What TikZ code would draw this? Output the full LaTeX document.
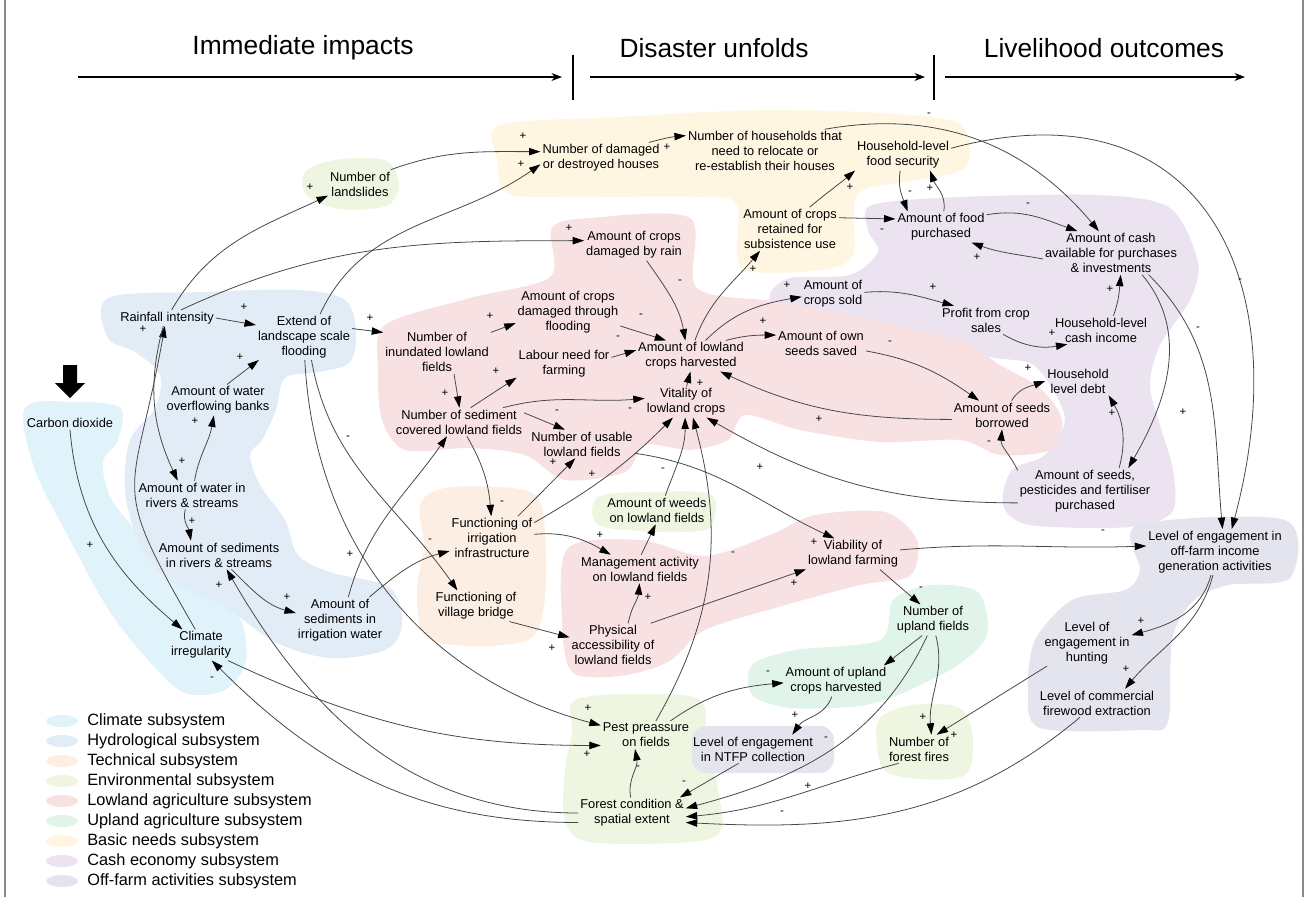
\documentclass[tikz,border=0pt]{standalone}
\usepackage{fontspec}
\setmainfont{Liberation Sans}
\usetikzlibrary{arrows.meta}
\definecolor{climc}{HTML}{E0F3FB}
\definecolor{hydroc}{HTML}{E2ECF7}
\definecolor{techc}{HTML}{FCEEE2}
\definecolor{envc}{HTML}{EEF6E2}
\definecolor{lowc}{HTML}{F8E1E3}
\definecolor{upc}{HTML}{E1F4EA}
\definecolor{basicc}{HTML}{FEF6E1}
\definecolor{cashc}{HTML}{EBE3F0}
\definecolor{offc}{HTML}{E4E4EE}
\begin{document}
\begin{tikzpicture}[x=0.02cm,y=0.02cm,>={Triangle[length=6.5pt,width=4.2pt,color=black]},
	var/.style={align=center,inner sep=1pt,font=\fontsize{7.3}{8.5}\selectfont},
	sgn/.style={inner sep=0pt,font=\fontsize{6.5}{7}\selectfont},
	head/.style={inner sep=0pt,font=\fontsize{15}{18}\selectfont},
	legtxt/.style={inner sep=0pt,anchor=west,font=\fontsize{9.3}{11}\selectfont},
	link/.style={->,draw=black!72,line width=0.45pt},
	hdarrow/.style={-{Stealth[length=6pt,width=4.5pt]},line width=0.6pt}]
	\useasboundingbox (0,0) rectangle (1306,-897);
	\draw[black!45,line width=0.8pt] (5,0) -- (5,-897);
	\draw[black!45,line width=0.8pt] (1303,0) -- (1303,-897);
	\fill[climc] plot[smooth cycle,tension=0.55] coordinates {(25,-408) (75,-402) (120,-408) (118,-440) (103,-462) (112,-500) (150,-545) (200,-590) (238,-615) (246,-660) (225,-690) (185,-693) (150,-662) (110,-612) (70,-540) (35,-470)};
	\fill[hydroc] plot[smooth cycle,tension=0.55] coordinates {(108,-298) (200,-292) (300,-290) (345,-300) (356,-330) (350,-362) (320,-372) (285,-378) (276,-410) (262,-440) (250,-455) (260,-485) (285,-520) (298,-555) (330,-572) (390,-588) (402,-625) (385,-650) (330,-658) (275,-642) (225,-607) (165,-577) (138,-540) (125,-490) (130,-440) (155,-408) (160,-375) (135,-352) (108,-338)};
	\fill[techc] plot[smooth cycle,tension=0.55] coordinates {(420,-505) (445,-488) (512,-488) (540,-502) (546,-560) (543,-612) (528,-640) (470,-646) (425,-636) (417,-590) (424,-545)};
	\fill[envc] plot[smooth cycle,tension=0.55] coordinates {(305,-172) (335,-160) (385,-160) (399,-185) (386,-206) (340,-209) (307,-196)};
	\fill[envc] plot[smooth cycle,tension=0.55] coordinates {(598,-497) (650,-492) (710,-494) (714,-520) (700,-531) (640,-531) (597,-524)};
	\fill[envc] plot[smooth cycle,tension=0.55] coordinates {(880,-718) (912,-705) (960,-708) (973,-740) (965,-775) (920,-779) (885,-771) (877,-745)};
	\fill[envc] plot[smooth cycle,tension=0.55] coordinates {(575,-700) (640,-694) (700,-700) (706,-740) (718,-790) (721,-830) (690,-842) (590,-842) (565,-820) (565,-770) (572,-732)};
	\fill[basicc] plot[smooth cycle,tension=0.5] coordinates {(500,-125) (620,-117) (760,-110) (880,-113) (960,-124) (965,-168) (905,-182) (857,-195) (853,-255) (820,-270) (742,-268) (737,-205) (700,-197) (560,-197) (507,-193) (497,-160)};
	\fill[cashc] plot[smooth cycle,tension=0.5] coordinates {(872,-205) (960,-197) (1100,-195) (1170,-208) (1198,-262) (1190,-300) (1160,-345) (1150,-385) (1160,-425) (1173,-470) (1172,-512) (1130,-527) (1030,-525) (1003,-505) (1012,-470) (1045,-455) (1065,-420) (1050,-385) (1030,-363) (990,-357) (960,-342) (900,-335) (840,-328) (780,-322) (770,-295) (790,-278) (850,-275) (878,-252) (868,-230)};
	\fill[lowc] plot[smooth cycle,tension=0.5] coordinates {(385,-325) (470,-298) (550,-277) (552,-228) (590,-218) (690,-218) (697,-288) (780,-302) (880,-322) (960,-340) (1000,-365) (1040,-388) (1062,-420) (1050,-450) (1000,-455) (960,-440) (880,-442) (800,-430) (745,-415) (728,-440) (690,-450) (645,-445) (625,-472) (565,-480) (525,-455) (470,-448) (405,-450) (382,-420) (378,-370)};
	\fill[lowc] plot[smooth cycle,tension=0.5] coordinates {(568,-548) (640,-540) (705,-556) (770,-535) (815,-515) (885,-512) (917,-540) (910,-576) (860,-585) (775,-608) (705,-630) (668,-662) (620,-676) (572,-672) (562,-620)};
	\fill[upc] plot[smooth cycle,tension=0.5] coordinates {(752,-665) (795,-650) (880,-640) (893,-600) (930,-585) (978,-592) (987,-635) (958,-665) (905,-692) (860,-706) (790,-708) (752,-695)};
	\fill[offc] plot[smooth cycle,tension=0.5] coordinates {(1138,-525) (1285,-520) (1290,-578) (1228,-585) (1192,-602) (1172,-640) (1168,-722) (1140,-730) (1040,-728) (1028,-690) (1035,-640) (1072,-600) (1125,-590) (1140,-570)};
	\fill[offc,rounded corners=8pt] (692,-726) rectangle (834,-773);
	\node[head] (himm) at (303,-48) {Immediate impacts};
	\node[head] (hdis) at (714,-48) {Disaster unfolds};
	\node[head] (hliv) at (1104,-48) {Livelihood outcomes};
	\coordinate (a1s) at (78,-77);
	\coordinate (a1e) at (562,-77);
	\coordinate (a2s) at (590,-77);
	\coordinate (a2e) at (925,-77);
	\coordinate (a3s) at (945,-77);
	\coordinate (a3e) at (1245,-77);
	\draw[hdarrow] (a1s) -- (a1e);
	\draw[hdarrow] (a2s) -- (a2e);
	\draw[hdarrow] (a3s) -- (a3e);
	\draw[line width=0.6pt] (573,-55) -- (573,-100);
	\draw[line width=0.6pt] (934,-55) -- (934,-100);
	\fill (63,-365) -- (77,-365) -- (77,-383) -- (85,-383) -- (70,-398) -- (55,-383) -- (63,-383) -- cycle;
	\node[var] (co2) at (70,-423) {Carbon dioxide};
	\node[var] (climirr) at (201,-645) {Climate\\irregularity};
	\node[var] (rain) at (167,-318) {Rainfall intensity};
	\node[var] (flood) at (304,-337) {Extend of\\landscape scale\\flooding};
	\node[var] (overflow) at (218,-400) {Amount of water\\overflowing banks};
	\node[var] (riverw) at (192,-495) {Amount of water in\\rivers \& streams};
	\node[var] (rivers) at (219,-555) {Amount of sediments\\in rivers \& streams};
	\node[var] (irrsed) at (340,-620) {Amount of\\sediments in\\irrigation water};
	\node[var] (slides) at (360,-184) {Number of\\landslides};
	\node[var] (houses) at (601,-158) {Number of damaged\\or destroyed houses};
	\node[var] (relocate) at (765,-151) {Number of households that\\need to relocate or\\re-establish their houses};
	\node[var] (foodsec) at (903,-155) {Household-level\\food security};
	\node[var] (retained) at (790,-229) {Amount of crops\\retained for\\subsistence use};
	\node[var] (foodpur) at (941,-227) {Amount of food\\purchased};
	\node[var] (cash) at (1111,-253) {Amount of cash\\available for purchases\\\& investments};
	\node[var] (rainloss) at (634,-245) {Amount of crops\\damaged by rain};
	\node[var] (floodloss) at (568,-312) {Amount of crops\\damaged through\\flooding};
	\node[var] (inund) at (437,-352) {Number of\\inundated lowland\\fields};
	\node[var] (labour) at (564,-364) {Labour need for\\farming};
	\node[var] (harvest) at (691,-356) {Amount of lowland\\crops harvested};
	\node[var] (sold) at (833,-294) {Amount of\\crops sold};
	\node[var] (profit) at (986,-320) {Profit from crop\\sales};
	\node[var] (cashinc) at (1101,-330) {Household-level\\cash income};
	\node[var] (ownseed) at (821,-343) {Amount of own\\seeds saved};
	\node[var] (debt) at (1078,-381) {Household\\level debt};
	\node[var] (borrow) at (1002,-415) {Amount of seeds\\borrowed};
	\node[var] (vital) at (686,-402) {Vitality of\\lowland crops};
	\node[var] (sedcov) at (459,-422) {Number of sediment\\covered lowland fields};
	\node[var] (usable) at (582,-444) {Number of usable\\lowland fields};
	\node[var] (inputs) at (1085,-491) {Amount of seeds,\\pesticides and fertiliser\\purchased};
	\node[var] (weeds) at (657,-510) {Amount of weeds\\on lowland fields};
	\node[var] (irrig) at (492,-538) {Functioning of\\irrigation\\infrastructure};
	\node[var] (manage) at (640,-569) {Management activity\\on lowland fields};
	\node[var] (viable) at (853,-554) {Viability of\\lowland farming};
	\node[var] (offfarm) at (1215,-552) {Level of engagement in\\off-farm income\\generation activities};
	\node[var] (bridge) at (476,-606) {Functioning of\\village bridge};
	\node[var] (access) at (613,-645) {Physical\\accessibility of\\lowland fields};
	\node[var] (upland) at (933,-620) {Number of\\upland fields};
	\node[var] (hunt) at (1087,-643) {Level of\\engagement in\\hunting};
	\node[var] (firewood) at (1097,-703) {Level of commercial\\firewood extraction};
	\node[var] (upcrop) at (836,-681) {Amount of upland\\crops harvested};
	\node[var] (pest) at (646,-735) {Pest preassure\\on fields};
	\node[var] (ntfp) at (753,-749) {Level of engagement\\in NTFP collection};
	\node[var] (fires) at (919,-749) {Number of\\forest fires};
	\node[var] (forest) at (632,-813) {Forest condition \&\\spatial extent};
	\draw[link] (co2.south) to[out=-85,in=140] (climirr.140);
	\draw[link] (climirr.110) to[out=120,in=-100,looseness=1.5] (rain.-105);
	\draw[link] (rain.-115) to[out=-105,in=115] (riverw.135);
	\draw[link] (rain.east) -- (flood.166);
	\draw[link] (rain.60) to[out=60,in=-155] (slides.200);
	\draw[link] (rain.30) to[out=25,in=180] (rainloss.175);
	\draw[link] (flood.55) to[out=65,in=-145] (houses.186);
	\draw[link] (slides.25) to[out=20,in=180] (houses.174);
	\draw[link] (flood.10) -- (inund.160);
	\draw[link] (overflow.60) -- (flood.207);
	\draw[link] (riverw.80) to[out=80,in=-100] (overflow.-105);
	\draw[link] (riverw.-115) to[out=-105,in=100] (rivers.153);
	\draw[link] (rivers.-49) to[out=-45,in=165] (irrsed.171);
	\draw[link] (irrsed.70) to[out=75,in=-125] (sedcov.-130);
	\draw[link] (irrsed.38) to[out=40,in=-165] (irrig.197);
	\draw[link] (flood.-72) to[out=-80,in=125] (bridge.140);
	\draw[link] (flood.-88) to[out=-87,in=165] (pest.168);
	\draw[link] (climirr.-30) to[out=-25,in=180] (pest.193);
	\draw[link] (forest.190) to[out=180,in=-45] (climirr.-55);
	\draw[link] (forest.180) to[out=180,in=-60] (rivers.-62);
	\draw[link] (inund.-52) -- (sedcov.88);
	\draw[link] (inund.20) -- (floodloss.192);
	\draw[link] (sedcov.51) -- (labour.196);
	\draw[link] (sedcov.18) to[out=15,in=185] (vital.175);
	\draw[link] (sedcov.8) -- (usable.140);
	\draw[link] (sedcov.-61) to[out=-60,in=95] (irrig.92);
	\draw[link] (irrig.40) -- (usable.-115);
	\draw[link] (irrig.20) to[out=30,in=-135] (vital.-130);
	\draw[link] (irrig.5) to[out=5,in=150] (manage.154);
	\draw[link] (bridge.-25) -- (access.170);
	\draw[link] (access.55) to[out=80,in=-95] (manage.-92);
	\draw[link] (access.30) -- (viable.198);
	\draw[link] (usable.-10) to[out=-8,in=155] (viable.140);
	\draw[link] (manage.85) -- (weeds.-95);
	\draw[link] (weeds.60) to[out=70,in=-90] (vital.-93);
	\draw[link] (pest.55) to[out=60,in=-75] (vital.-66);
	\draw[link] (inputs.190) to[out=180,in=-30] (vital.-37);
	\draw[link] (vital.88) -- (harvest.-92);
	\draw[link] (rainloss.-51) to[out=-55,in=100] (harvest.110);
	\draw[link] (floodloss.-15) -- (harvest.148);
	\draw[link] (labour.8) -- (harvest.174);
	\draw[link] (borrow.185) to[out=180,in=-25] (harvest.-28);
	\draw[link] (harvest.76) to[out=70,in=-130] (retained.-144);
	\draw[link] (harvest.47) to[out=45,in=190] (sold.185);
	\draw[link] (harvest.24) to[out=15,in=180] (ownseed.170);
	\draw[link] (ownseed.-10) to[out=-10,in=145] (borrow.148);
	\draw[link] (retained.48) to[out=40,in=-140] (foodsec.198);
	\draw[link] (retained.13) -- (foodpur.170);
	\draw[link] (foodsec.-100) to[out=-100,in=110] (foodpur.155);
	\draw[link] (foodpur.80) to[out=80,in=-70] (foodsec.-30);
	\draw[link] (foodpur.15) to[out=10,in=160] (cash.147);
	\draw[link] (cash.185) to[out=170,in=-20] (foodpur.-27);
	\draw[link] (houses.18) to[out=15,in=185] (relocate.169);
	\draw[link] (relocate.20) to[out=10,in=130] (cash.119);
	\draw[link] (foodsec.8) to[out=15,in=75,looseness=1.4] (offfarm.54);
	\draw[link] (cash.-30) to[out=-45,in=95] (offfarm.72);
	\draw[link] (cash.-35) to[out=-50,in=60] (inputs.28);
	\draw[link] (viable.5) to[out=5,in=182] (offfarm.175);
	\draw[link] (viable.-30) -- (upland.129);
	\draw[link] (profit.-40) to[out=-30,in=190] (cashinc.203);
	\draw[link] (sold.3) to[out=5,in=165] (profit.156);
	\draw[link] (cashinc.49) to[out=70,in=-95] (cash.-66);
	\draw[link] (borrow.56) to[out=60,in=200] (debt.180);
	\draw[link] (inputs.163) to[out=115,in=-95] (borrow.-90);
	\draw[link] (inputs.34) to[out=75,in=-60] (debt.-25);
	\draw[link] (offfarm.-100) to[out=-105,in=15] (hunt.10);
	\draw[link] (offfarm.-95) to[out=-105,in=50] (firewood.27);
	\draw[link] (hunt.-150) -- (fires.39);
	\draw[link] (upland.-80) to[out=-75,in=95] (fires.49);
	\draw[link] (upland.-125) -- (upcrop.18);
	\draw[link] (upland.-110) to[out=-115,in=15] (forest.5);
	\draw[link] (fires.-145) to[out=-165,in=5] (forest.-4);
	\draw[link] (firewood.-140) to[out=-140,in=-3] (forest.-10);
	\draw[link] (upcrop.-105) to[out=-110,in=55] (ntfp.20);
	\draw[link] (ntfp.-135) to[out=-150,in=30] (forest.18);
	\draw[link] (pest.30) to[out=35,in=185] (upcrop.182);
	\draw[link] (forest.95) to[out=100,in=-80] (pest.-128);
	\foreach \x/\y/\s [count=\i] in {90/545/+, 143/329/+, 182/461/+, 244/307/+, 310/187/+, 569/228/+, 521/164/+, 523/136/+, 370/318/+, 240/357/+, 195/421/+, 192/521/+, 287/597/+, 350/554/+, 430/541/-, 348/438/-, 588/708/+, 587/754/+, 212/679/-, 219/585/+, 445/393/+, 490/316/+, 496/371/+, 630/410/-, 557/412/-, 502/503/-, 553/462/+, 592/474/+, 600/535/+, 552/648/+, 648/597/+, 794/583/+, 814/542/+, 663/470/-, 733/554/-, 760/467/+, 700/383/+, 680/282/-, 641/316/-, 618/338/-, 819/419/+, 753/269/+, 787/285/+, 763/321/+, 890/343/-, 850/187/+, 882/231/-, 910/193/-, 930/188/+, 1028/205/-, 977/257/+, 667/147/+, 929/115/-, 1052/333/+, 933/287/+, 1110/289/+, 1028/368/+, 989/443/-, 1112/413/+, 1183/412/+, 1198/329/-, 1240/281/-, 1103/532/-, 921/589/-, 1141/621/+, 1126/669/+, 923/717/+, 954/735/+, 808/786/+, 782/813/-, 826/739/-, 795/715/+, 684/783/-, 768/673/-, 638/768/-}
		\node[sgn] (sg\i) at (\x,-\y) {\s};
	\foreach \c/\t [count=\i from 0] in {climc/Climate subsystem, hydroc/Hydrological subsystem, techc/Technical subsystem, envc/Environmental subsystem, lowc/Lowland agriculture subsystem, upc/Upland agriculture subsystem, basicc/Basic needs subsystem, cashc/Cash economy subsystem, offc/Off-farm activities subsystem}
	{
		\fill[\c] (62,{-721-20*\i}) ellipse (16 and 6);
		\node[legtxt] (leg\i) at (87,{-721-20*\i}) {\t};
	}
\end{tikzpicture}
\end{document}
